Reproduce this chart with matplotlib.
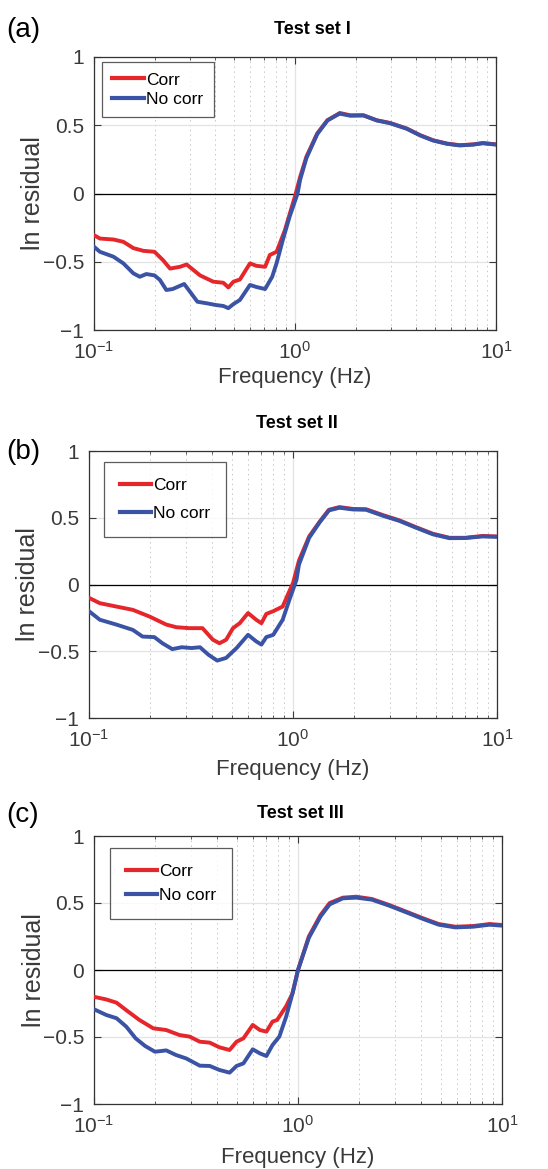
import numpy as np
import matplotlib
matplotlib.use("Agg")
import matplotlib.pyplot as plt
from matplotlib.ticker import LogLocator, NullFormatter, LogFormatterMathtext

plt.rcParams['font.family'] = ['Liberation Sans', 'DejaVu Sans']
plt.rcParams['mathtext.fontset'] = 'custom'
plt.rcParams['mathtext.rm'] = 'Liberation Sans'
plt.rcParams['mathtext.default'] = 'regular'

# data (Hz, ln residual)
# panel (a) - Test set I
freq_a_corr = [0.1, 0.107, 0.125, 0.14, 0.157, 0.176, 0.2, 0.221, 0.239, 0.268, 0.289, 0.337,
               0.392, 0.44, 0.466, 0.494, 0.532, 0.597, 0.643, 0.71, 0.75, 0.81, 0.89, 1.0,
               1.06, 1.14, 1.29, 1.45, 1.62, 1.67, 1.88, 2.19, 2.55, 2.97, 3.6, 4.2, 4.87,
               5.7, 6.6, 7.7, 8.6, 10.0]
corr_a = [-0.305, -0.33, -0.337, -0.354, -0.40, -0.42, -0.427, -0.49, -0.55, -0.537, -0.52, -0.60,
          -0.646, -0.654, -0.688, -0.646, -0.63, -0.512, -0.53, -0.537, -0.45, -0.427, -0.27, -0.02,
          0.12, 0.27, 0.44, 0.537, 0.578, 0.59, 0.573, 0.573, 0.537, 0.517, 0.476, 0.427, 0.39,
          0.366, 0.354, 0.36, 0.37, 0.36]
freq_a_nocorr = [0.1, 0.107, 0.125, 0.14, 0.157, 0.169, 0.182, 0.2, 0.213, 0.229, 0.246, 0.281,
                 0.304, 0.327, 0.366, 0.404, 0.44, 0.466, 0.494, 0.532, 0.597, 0.643, 0.71, 0.77,
                 0.81, 0.87, 0.94, 1.03, 1.06, 1.14, 1.29, 1.45, 1.62, 1.67, 1.88, 2.19, 2.55,
                 2.97, 3.6, 4.2, 4.87, 5.7, 6.6, 7.7, 8.6, 10.0]
nocorr_a = [-0.39, -0.427, -0.463, -0.512, -0.585, -0.61, -0.59, -0.60, -0.634, -0.707, -0.70, -0.663,
            -0.73, -0.793, -0.805, -0.817, -0.824, -0.84, -0.81, -0.78, -0.67, -0.685, -0.70, -0.61,
            -0.51, -0.34, -0.17, 0.0, 0.10, 0.26, 0.435, 0.535, 0.575, 0.585, 0.57, 0.572, 0.535,
            0.515, 0.474, 0.425, 0.388, 0.364, 0.352, 0.358, 0.368, 0.358]

# panel (b) - Test set II
freq_b_corr = [0.1, 0.113, 0.136, 0.164, 0.198, 0.239, 0.268, 0.31, 0.36, 0.405, 0.436, 0.47,
               0.508, 0.548, 0.602, 0.66, 0.70, 0.74, 0.80, 0.89, 0.96, 1.0, 1.07, 1.2, 1.35,
               1.5, 1.69, 1.97, 2.28, 2.76, 3.33, 4.0, 4.85, 5.85, 7.0, 8.5, 10.0]
corr_b = [-0.10, -0.14, -0.165, -0.19, -0.24, -0.30, -0.32, -0.327, -0.327, -0.414, -0.44, -0.414,
          -0.327, -0.29, -0.214, -0.264, -0.29, -0.22, -0.20, -0.165, -0.05, 0.01, 0.18, 0.36, 0.47,
          0.56, 0.58, 0.566, 0.564, 0.52, 0.48, 0.43, 0.38, 0.35, 0.35, 0.364, 0.36]
freq_b_nocorr = [0.1, 0.113, 0.136, 0.164, 0.183, 0.209, 0.229, 0.256, 0.285, 0.318, 0.35, 0.385,
                 0.425, 0.47, 0.529, 0.602, 0.66, 0.70, 0.74, 0.80, 0.89, 0.96, 1.04, 1.07, 1.2,
                 1.35, 1.5, 1.69, 1.97, 2.28, 2.76, 3.33, 4.0, 4.85, 5.85, 7.0, 8.5, 10.0]
nocorr_b = [-0.20, -0.264, -0.30, -0.34, -0.39, -0.394, -0.44, -0.484, -0.47, -0.476, -0.47, -0.526,
            -0.57, -0.55, -0.476, -0.377, -0.426, -0.45, -0.394, -0.377, -0.264, -0.115, 0.035, 0.15,
            0.35, 0.465, 0.555, 0.575, 0.562, 0.56, 0.515, 0.476, 0.426, 0.376, 0.347, 0.348,
            0.36, 0.357]

# panel (c) - Test set III
freq_c_corr = [0.1, 0.115, 0.129, 0.144, 0.167, 0.195, 0.226, 0.262, 0.294, 0.33, 0.369, 0.412,
               0.462, 0.5, 0.54, 0.60, 0.65, 0.70, 0.75, 0.79, 0.875, 0.94, 1.0, 1.13, 1.29,
               1.43, 1.66, 1.93, 2.3, 2.8, 3.4, 4.1, 4.9, 5.9, 7.2, 8.7, 10.0]
corr_c = [-0.20, -0.22, -0.244, -0.30, -0.373, -0.435, -0.448, -0.485, -0.497, -0.535, -0.542, -0.577,
          -0.597, -0.535, -0.51, -0.41, -0.448, -0.46, -0.385, -0.373, -0.27, -0.174, 0.0, 0.25, 0.41,
          0.50, 0.54, 0.547, 0.53, 0.485, 0.435, 0.386, 0.343, 0.323, 0.328, 0.343, 0.336]
freq_c_nocorr = [0.1, 0.115, 0.129, 0.144, 0.16, 0.178, 0.199, 0.226, 0.252, 0.283, 0.33, 0.369,
                 0.412, 0.462, 0.5, 0.54, 0.60, 0.65, 0.70, 0.75, 0.81, 0.875, 0.94, 1.0, 1.13,
                 1.29, 1.43, 1.66, 1.93, 2.3, 2.8, 3.4, 4.1, 4.9, 5.9, 7.2, 8.7, 10.0]
nocorr_c = [-0.293, -0.336, -0.36, -0.423, -0.51, -0.567, -0.61, -0.60, -0.634, -0.66, -0.714, -0.716,
            -0.746, -0.766, -0.716, -0.697, -0.592, -0.622, -0.642, -0.56, -0.497, -0.348, -0.174, 0.0,
            0.24, 0.40, 0.49, 0.535, 0.54, 0.525, 0.48, 0.43, 0.381, 0.338, 0.318, 0.323, 0.338, 0.331]

titles = ['Test set I', 'Test set II', 'Test set III']
panel_labels = ['(a)', '(b)', '(c)']
series_labels = ['Corr', 'No corr']

red = '#e5262b'
blue = '#3a53a4'
gray_txt = '#3a3a3a'

W, H = 548, 1169
fig = plt.figure(figsize=(W / 100, H / 100), dpi=100)

# axes boxes in pixels: left, top, right, bottom
boxes = [(94, 57, 496, 330), (89, 451, 497, 718), (94, 836, 502, 1104)]
title_xy = [(312, 30), (297, 423), (300, 813)]
plabel_xy = [(6, 30), (6, 452), (6, 815)]
ylab_x = [33, 28, 34]
xlab_y = [377, 770, 1158]
leg_xy = [(102, 62), (104, 462), (110, 848)]
leg_space = [0.25, 0.75, 0.55]
leg_pad = [0.6, 0.9, 0.9]

data = [(freq_a_corr, corr_a, freq_a_nocorr, nocorr_a),
        (freq_b_corr, corr_b, freq_b_nocorr, nocorr_b),
        (freq_c_corr, corr_c, freq_c_nocorr, nocorr_c)]

for i, (l, t, r, b) in enumerate(boxes):
    ax = fig.add_axes([l / W, 1 - b / H, (r - l) / W, (b - t) / H])
    fc, c, fn, n = data[i]
    ax.plot(fc, c, color=red, lw=2.8, label=series_labels[0], zorder=3)
    ax.plot(fn, n, color=blue, lw=2.8, label=series_labels[1], zorder=4)
    ax.axhline(0, color='black', lw=0.9, zorder=2)
    ax.set_xscale('log')
    ax.set_xlim(0.1, 10)
    ax.set_ylim(-1, 1)
    ax.set_yticks([-1, -0.5, 0, 0.5, 1])
    ax.set_yticklabels(['\u22121', '\u22120.5', '0', '0.5', '1'])
    ax.xaxis.set_major_locator(LogLocator(base=10, numticks=5))
    ax.xaxis.set_major_formatter(LogFormatterMathtext())
    ax.xaxis.set_minor_locator(LogLocator(base=10, subs=np.arange(2, 10), numticks=20))
    ax.xaxis.set_minor_formatter(NullFormatter())
    ax.grid(True, which='major', color='#e3e3e3', lw=0.9, zorder=0)
    ax.grid(True, which='minor', axis='x', color='#c8c8c8', lw=0.7, ls=(0, (1.5, 3.5)), zorder=0)
    ax.set_axisbelow(True)
    ax.tick_params(which='both', direction='in', top=True, right=True,
                   labelsize=15, colors=gray_txt)
    ax.tick_params(axis='x', which='major', pad=8)
    ax.tick_params(axis='y', which='major', pad=7)
    ax.tick_params(which='major', length=5, width=0.8)
    ax.tick_params(which='minor', length=2.5, width=0.6)
    for sp in ax.spines.values():
        sp.set_color('#333333')
        sp.set_linewidth(0.9)

    leg = ax.legend(loc='upper left', bbox_to_anchor=((leg_xy[i][0] - l) / (r - l), 1 - (leg_xy[i][1] - t) / (b - t)),
                    fontsize=12.5, frameon=True, fancybox=False, handlelength=1.8, handletextpad=0.15,
                    borderpad=leg_pad[i], labelspacing=leg_space[i], borderaxespad=0)
    leg.get_frame().set_edgecolor('#333333')
    leg.get_frame().set_linewidth(0.9)
    for lh in leg.get_lines():
        lh.set_linewidth(3)

    fig.text(title_xy[i][0] / W, 1 - title_xy[i][1] / H, titles[i], ha='center', va='center',
             fontsize=13, fontweight='bold')
    fig.text(plabel_xy[i][0] / W, 1 - plabel_xy[i][1] / H, panel_labels[i], ha='left', va='center',
             fontsize=20)
    fig.text(ylab_x[i] / W, 1 - ((t + b) / 2) / H, 'ln residual', rotation=90, ha='center', va='center',
             fontsize=18, color=gray_txt)
    fig.text(((l + r) / 2) / W, 1 - xlab_y[i] / H, 'Frequency (Hz)', ha='center', va='center',
             fontsize=16, color=gray_txt)

fig.savefig('out.png', dpi=100)
